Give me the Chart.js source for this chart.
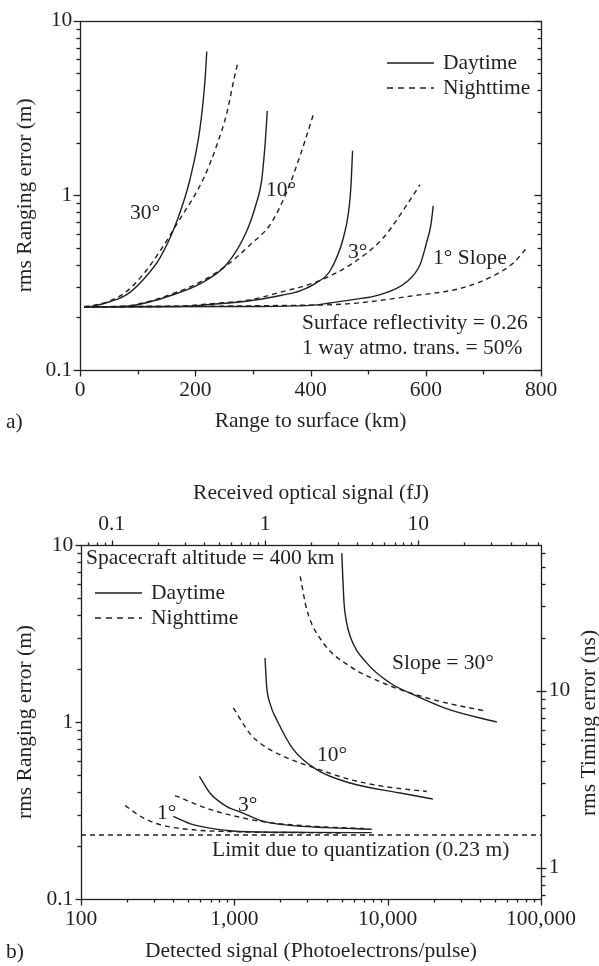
<!DOCTYPE html>
<html>
<head>
<meta charset="utf-8">
<title>Ranging error vs range and signal</title>
<script src="https://cdn.jsdelivr.net/npm/chart.js@4.4.0/dist/chart.umd.min.js"></script>
<style>
  body { margin: 0; background: #fff; }
  canvas { position: absolute; left: 0; }
  #chartA { top: 0; }
  #chartB { top: 440px; }
</style>
</head>
<body>
<canvas id="chartA" width="599" height="440"></canvas>
<canvas id="chartB" width="599" height="526"></canvas>
<script>
const INK = "#231f20";
const FONT = '21.5px "Liberation Serif"';

// Panel a) axes
const rangeTicks = [0, 100, 200, 300, 400, 500, 600, 700, 800];
const rangeLabels = [0, 200, 400, 600, 800];
const errorTicks = [0.1, 0.2, 0.3, 0.4, 0.5, 0.6, 0.7, 0.8, 0.9, 1, 2, 3, 4, 5, 6, 7, 8, 9, 10];
const errorLabels = [0.1, 1, 10];

// Panel a) curves: range (km) / rms ranging error (m)
const day30Range = [7, 25, 50, 81, 110, 139, 168, 191, 208, 217, 220];
const day30Error = [0.23, 0.233, 0.245, 0.27, 0.33, 0.44, 0.71, 1.24, 2.39, 4.59, 6.65];
const night30Range = [7, 25, 52, 80, 110, 139, 171, 214, 237, 255, 267, 274];
const night30Error = [0.23, 0.235, 0.249, 0.28, 0.354, 0.48, 0.71, 1.24, 1.92, 2.97, 4.59, 5.76];
const day10Range = [7, 75, 120, 156, 208, 255, 289, 306, 315, 321, 325];
const day10Error = [0.23, 0.231, 0.245, 0.266, 0.311, 0.404, 0.62, 0.9, 1.2, 1.92, 3.04];
const night10Range = [7, 75, 120, 156, 208, 260, 295, 330, 359, 382, 399, 405];
const night10Error = [0.23, 0.232, 0.247, 0.27, 0.318, 0.41, 0.52, 0.68, 1.05, 1.69, 2.51, 2.91];
const day3Range = [7, 168, 230, 295, 350, 382, 410, 434, 457, 466, 470, 473];
const day3Error = [0.23, 0.231, 0.238, 0.249, 0.268, 0.284, 0.315, 0.37, 0.57, 0.8, 1.1, 1.8];
const night3Range = [7, 168, 230, 295, 350, 411, 469, 526, 567, 590];
const night3Error = [0.23, 0.232, 0.24, 0.252, 0.28, 0.32, 0.4, 0.57, 0.88, 1.15];
const day1Range = [7, 300, 411, 434, 470, 521, 567, 590, 602, 609, 613];
const day1Error = [0.23, 0.231, 0.236, 0.242, 0.252, 0.27, 0.32, 0.4, 0.545, 0.68, 0.87];
const night1Range = [7, 347, 463, 578, 665, 723, 752, 773];
const night1Error = [0.23, 0.234, 0.239, 0.266, 0.296, 0.354, 0.41, 0.49];

// Panel b) axes
const signalTicks = [100, 200, 300, 400, 500, 600, 700, 800, 900,
  1000, 2000, 3000, 4000, 5000, 6000, 7000, 8000, 9000,
  10000, 20000, 30000, 40000, 50000, 60000, 70000, 80000, 90000, 100000];
const signalLabels = [100, 1000, 10000, 100000];
const energyTicks = [0.07, 0.08, 0.09, 0.1, 0.2, 0.3, 0.4, 0.5, 0.6, 0.7, 0.8, 0.9,
  1, 2, 3, 4, 5, 6, 7, 8, 9, 10, 20, 30, 40, 50, 60];
const energyLabels = [0.1, 1, 10];
const timingTicks = [0.7, 0.8, 0.9, 1, 2, 3, 4, 5, 6, 7, 8, 9, 10, 20, 30, 40, 50, 60];
const timingLabels = [1, 10];
const photoelectronsPerFJ = 1585;
const metresPerNs = 0.15;
const quantizationLimit = 0.23;

// Panel b) curves: photoelectrons / rms ranging error (m)
const day30Signal = [5020, 5195, 5355, 5690, 7320, 10370, 15500, 25500, 51500];
const day30Err = [9.0, 4.7, 3.78, 3.05, 2.15, 1.66, 1.4, 1.17, 1.0];
const night30Signal = [2690, 2970, 3810, 5690, 9380, 14000, 24300, 44300];
const night30Err = [6.65, 4.31, 2.79, 2.06, 1.66, 1.46, 1.28, 1.15];
const day10Signal = [1585, 1625, 1720, 1890, 2430, 3440, 5690, 12060, 19700];
const day10Err = [2.3, 1.59, 1.25, 1.03, 0.698, 0.538, 0.452, 0.397, 0.367];
const night10Signal = [985, 1265, 1470, 2085, 3440, 5690, 9380, 18000];
const night10Err = [1.2, 0.86, 0.76, 0.64, 0.545, 0.473, 0.433, 0.405];
const day3Signal = [592, 693, 893, 1140, 1470, 2085, 4000, 7870];
const day3Err = [0.493, 0.397, 0.333, 0.306, 0.278, 0.263, 0.253, 0.248];
const night3Signal = [410, 693, 1140, 1470, 2085, 4000, 7000];
const night3Err = [0.384, 0.321, 0.287, 0.275, 0.265, 0.255, 0.25];
const day1Signal = [400, 538, 893, 1470, 3000, 7870];
const day1Err = [0.293, 0.263, 0.244, 0.239, 0.238, 0.237];
const night1Signal = [194, 255, 327, 538, 1000, 2500, 5000];
const night1Err = [0.337, 0.287, 0.263, 0.246, 0.24, 0.237, 0.236];

Chart.defaults.font.family = '"Liberation Serif", "Times New Roman", serif';
Chart.defaults.font.size = 21.5;
Chart.defaults.color = INK;

function points(xs, ys) {
  return xs.map((x, i) => ({ x: x, y: ys[i] }));
}

function curve(xs, ys, dashed) {
  return {
    data: points(xs, ys),
    borderColor: INK,
    borderWidth: 1.4,
    borderDash: dashed ? [5, 4] : [],
    pointRadius: 0,
    cubicInterpolationMode: "monotone",
    fill: false
  };
}

// scale with fixed tick list, labels only on the listed values
function fixedScale(opts, ticks, labels, fmt) {
  return Object.assign({
    grid: { display: false, drawTicks: false },
    border: { display: false },
    afterBuildTicks: s => { s.ticks = ticks.map(v => ({ value: v })); },
    ticks: {
      autoSkip: false,
      maxRotation: 0,
      padding: 7.7,
      callback: v => labels.includes(v) ? fmt(v) : ""
    }
  }, opts);
}

// frame + tick marks drawn on the chart area edges
function tickMarks(specs) {
  return {
    id: "tickMarks",
    afterDraw(chart) {
      const ctx = chart.ctx, a = chart.chartArea;
      ctx.save();
      ctx.strokeStyle = INK;
      ctx.lineWidth = 1.3;
      ctx.strokeRect(Math.round(a.left) + 0.5, Math.round(a.top) + 0.5,
        Math.round(a.right - a.left), Math.round(a.bottom - a.top));
      specs.forEach(s => {
        const scale = chart.scales[s.id];
        const edge = { left: a.left, right: a.right, top: a.top, bottom: a.bottom }[s.side];
        const dir = (s.side === "left" || s.side === "top") ? -1 : 1;
        scale.ticks.forEach(t => {
          const p = Math.round(scale.getPixelForValue(t.value)) + 0.5;
          const major = s.labels.includes(t.value);
          const outLen = major ? s.out[0] : s.out[1];
          const inLen = major ? s.in[0] : s.in[1];
          if (!outLen && !inLen) return;
          const e = Math.round(edge) + 0.5;
          ctx.beginPath();
          if (s.side === "left" || s.side === "right") {
            ctx.moveTo(e - dir * inLen, p);
            ctx.lineTo(e + dir * outLen, p);
          } else {
            ctx.moveTo(p, e - dir * inLen);
            ctx.lineTo(p, e + dir * outLen);
          }
          ctx.stroke();
        });
      });
      ctx.restore();
    }
  };
}

// text notes and legend samples
function notes(items) {
  return {
    id: "notes",
    afterDraw(chart) {
      const ctx = chart.ctx;
      ctx.save();
      ctx.font = FONT;
      ctx.fillStyle = INK;
      ctx.strokeStyle = INK;
      ctx.lineWidth = 1.4;
      ctx.textBaseline = "middle";
      items.forEach(n => {
        if (n.line) {
          ctx.setLineDash(n.line === "dashed" ? [6, 5] : []);
          ctx.beginPath();
          ctx.moveTo(n.x, n.y);
          ctx.lineTo(n.x2, n.y);
          ctx.stroke();
          ctx.setLineDash([]);
        } else if (n.rotate) {
          ctx.save();
          ctx.translate(n.x, n.y);
          ctx.rotate(-Math.PI / 2);
          ctx.textAlign = "center";
          ctx.textBaseline = "alphabetic";
          ctx.fillText(n.text, 0, 0);
          ctx.restore();
        } else {
          ctx.fillText(n.text, n.x, n.y);
        }
      });
      ctx.restore();
    }
  };
}

const plain = v => String(v);

// Panel a)
let rangeChart = new Chart(document.getElementById("chartA"), {
  type: "line",
  data: {
    datasets: [
      curve(day30Range, day30Error, false),
      curve(night30Range, night30Error, true),
      curve(day10Range, day10Error, false),
      curve(night10Range, night10Error, true),
      curve(day3Range, day3Error, false),
      curve(night3Range, night3Error, true),
      curve(day1Range, day1Error, false),
      curve(night1Range, night1Error, true)
    ]
  },
  options: {
    responsive: false,
    animation: false,
    events: [],
    layout: { padding: { top: 16, right: 58, left: 0, bottom: 0 } },
    plugins: { legend: { display: false }, tooltip: { enabled: false } },
    scales: {
      x: fixedScale({
        type: "linear", position: "bottom", min: 0, max: 800,
        afterFit: s => { s.height = 70; },
        title: { display: true, text: "Range to surface (km)", padding: { top: 0, bottom: 5.4 } }
      }, rangeTicks, rangeLabels, plain),
      y: fixedScale({
        type: "logarithmic", position: "left", min: 0.1, max: 10,
        afterFit: s => { s.width = 80; },
        title: { display: true, text: "rms Ranging error (m)", padding: { top: 12.1, bottom: 0 } }
      }, errorTicks, errorLabels, plain)
    }
  },
  plugins: [
    tickMarks([
      { id: "x", side: "bottom", labels: rangeLabels, out: [6, 4], in: [0, 0] },
      { id: "y", side: "left", labels: errorLabels, out: [7, 4], in: [0, 0] },
      { id: "y", side: "right", labels: errorLabels, out: [0, 0], in: [7, 4] }
    ]),
    notes([
      { text: "30°", x: 130, y: 213 },
      { text: "10°", x: 266, y: 190 },
      { text: "3°", x: 348, y: 252 },
      { text: "1° Slope", x: 433, y: 258 },
      { line: "solid", x: 387, x2: 434, y: 63 },
      { text: "Daytime", x: 443, y: 63 },
      { line: "dashed", x: 387, x2: 434, y: 88 },
      { text: "Nighttime", x: 443, y: 88 },
      { text: "Surface reflectivity = 0.26", x: 302, y: 323 },
      { text: "1 way atmo. trans. = 50%", x: 302, y: 348 },
      { text: "a)", x: 6, y: 422 }
    ])
  ]
});

// Panel b)
let signalChart = new Chart(document.getElementById("chartB"), {
  type: "line",
  data: {
    datasets: [
      curve(day30Signal, day30Err, false),
      curve(night30Signal, night30Err, true),
      curve(day10Signal, day10Err, false),
      curve(night10Signal, night10Err, true),
      curve(day3Signal, day3Err, false),
      curve(night3Signal, night3Err, true),
      curve(day1Signal, day1Err, false),
      curve(night1Signal, night1Err, true),
      curve([signalLabels[0], signalLabels[3]], [quantizationLimit, quantizationLimit], true)
    ]
  },
  options: {
    responsive: false,
    animation: false,
    events: [],
    layout: { padding: 0 },
    plugins: { legend: { display: false }, tooltip: { enabled: false } },
    scales: {
      x: fixedScale({
        type: "logarithmic", position: "bottom", min: 100, max: 100000,
        afterFit: s => { s.height = 67; },
        title: { display: true, text: "Detected signal (Photoelectrons/pulse)", padding: { top: 0, bottom: 1.4 } }
      }, signalTicks, signalLabels, v => v.toLocaleString("en-US")),
      xTop: fixedScale({
        type: "logarithmic", position: "top",
        min: 100 / photoelectronsPerFJ, max: 100000 / photoelectronsPerFJ,
        afterFit: s => { s.height = 105; },
        title: { display: true, text: "Received optical signal (fJ)", padding: { top: 40.1, bottom: 0 } }
      }, energyTicks, energyLabels, plain),
      y: fixedScale({
        type: "logarithmic", position: "left", min: 0.1, max: 10,
        afterFit: s => { s.width = 81; },
        title: { display: true, text: "rms Ranging error (m)", padding: { top: 12.1, bottom: 0 } }
      }, errorTicks, errorLabels, plain),
      yRight: fixedScale({
        type: "logarithmic", position: "right",
        min: 0.1 / metresPerNs, max: 10 / metresPerNs,
        afterFit: s => { s.width = 58; }
      }, timingTicks, timingLabels, plain)
    }
  },
  plugins: [
    tickMarks([
      { id: "x", side: "bottom", labels: signalLabels, out: [6, 3], in: [0, 0] },
      { id: "xTop", side: "top", labels: energyLabels, out: [5, 3], in: [0, 0] },
      { id: "y", side: "left", labels: errorLabels, out: [6, 4], in: [0, 0] },
      { id: "yRight", side: "right", labels: timingLabels, out: [5, 4], in: [5, 0] }
    ]),
    notes([
      { text: "Spacecraft altitude = 400 km", x: 86, y: 118 },
      { line: "solid", x: 95, x2: 142, y: 153 },
      { text: "Daytime", x: 151, y: 153 },
      { line: "dashed", x: 95, x2: 142, y: 178 },
      { text: "Nighttime", x: 151, y: 178 },
      { text: "Slope = 30°", x: 392, y: 223 },
      { text: "10°", x: 317, y: 315 },
      { text: "3°", x: 238, y: 365 },
      { text: "1°", x: 157, y: 373 },
      { text: "Limit due to quantization (0.23 m)", x: 212, y: 410 },
      { text: "rms Timing error (ns)", x: 595, y: 283, rotate: true },
      { text: "b)", x: 6, y: 512 }
    ])
  ]
});
</script>
</body>
</html>
